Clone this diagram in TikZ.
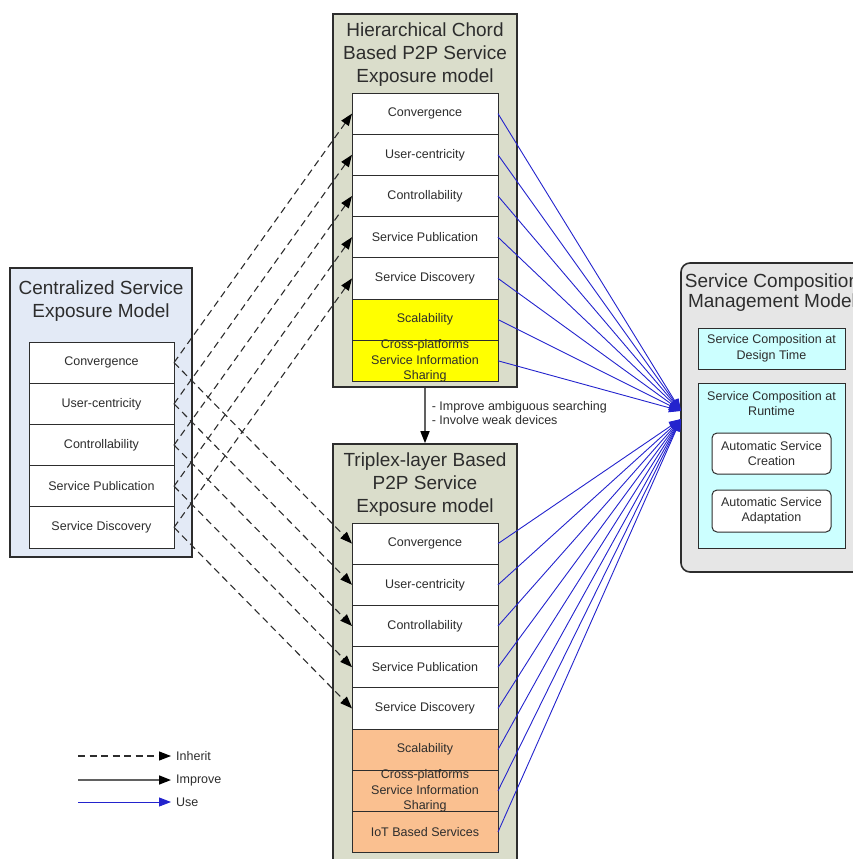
\documentclass[tikz,border=0pt]{standalone}
\usepackage{fontspec}
\setmainfont{Liberation Sans}
\usetikzlibrary{positioning, arrows.meta}
\definecolor{khaki}{RGB}{218,221,203}
\definecolor{paleblue}{RGB}{227,234,246}
\definecolor{hiyellow}{RGB}{255,255,0}
\definecolor{peach}{RGB}{250,192,144}
\definecolor{palecyan}{RGB}{204,255,255}
\definecolor{panelgray}{RGB}{230,230,230}
\definecolor{usecol}{RGB}{35,35,205}
\definecolor{ink}{RGB}{45,45,45}

\begin{document}
\begin{tikzpicture}[x=1pt, y=-1pt,
  >={Triangle[length=12pt, width=9pt]},
  every node/.style={text=ink},
  model/.style={draw=ink, line width=1.6pt, fill=khaki, inner sep=0pt},
  title/.style={align=center, font=\fontsize{19}{23}\selectfont, inner sep=0pt},
  txt/.style={align=center, font=\fontsize{12.5}{15.5}\selectfont, inner sep=0pt},
  row/.style={txt, draw=ink, line width=1pt, fill=white, minimum width=146pt, minimum height=41.2pt, outer sep=0pt},
  crossrow/.style={row, label={[txt]center:{Cross-platforms\\Service Information\\Sharing}}},
  part/.style={txt, draw=ink, line width=1pt, fill=palecyan, minimum width=147pt},
  inherit/.style={-{Triangle[length=12pt, width=9pt, color=black]}, draw=ink, line width=1.1pt, dash pattern=on 7pt off 4.5pt},
  improve/.style={-{Triangle[length=12pt, width=9pt, color=black]}, draw=ink!75, line width=1.5pt},
  use/.style={-{Triangle[length=12pt, width=9pt, color=usecol]}, draw=usecol, line width=0.9pt},
]
  \useasboundingbox (0,0) rectangle (853,859);
  \clip (0,0) rectangle (853,859);

  % outer model boxes
  \node[model, fill=paleblue, minimum width=182pt, minimum height=289pt] (csbox) at (101,412.5) {};
  \node[model, minimum width=184pt, minimum height=373pt] (hcbox) at (425,200.5) {};
  \node[model, minimum width=184pt, minimum height=436pt] (tlbox) at (425,662) {};
  \node[model, fill=panelgray, rounded corners=9pt, minimum width=182pt, minimum height=309pt] (scbox) at (772,417.5) {};

  \node[title] (cstitle) at (101,301) {Centralized Service\\Exposure Model};
  \node[title] (hctitle) at (425,55) {Hierarchical Chord\\Based P2P Service\\Exposure model};
  \node[title] (tltitle) at (425,485) {Triplex-layer Based\\P2P Service\\Exposure model};
  \node[title, font=\fontsize{19}{20}\selectfont] (sctitle) at (772,293) {Service Composition\\Management Model};

  % feature rows
  \foreach \t [count=\i] in {Convergence, User-centricity, Controllability, Service Publication, Service Discovery} {
    \node[row, minimum width=145pt] (cs\i) at (101.5,{342+41.2*(\i-0.5)}) {\t};
    \node[row] (hc\i) at (425,{93+41.2*(\i-0.5)}) {\t};
    \node[row] (tl\i) at (425,{523+41.2*(\i-0.5)}) {\t};
  }
  \node[row, fill=hiyellow] (hc6) at (425,{93+41.2*5.5}) {Scalability};
  \node[crossrow, fill=hiyellow] (hc7) at (425,{93+41.2*6.5}) {};
  \node[row, fill=peach] (tl6) at (425,{523+41.2*5.5}) {Scalability};
  \node[crossrow, fill=peach] (tl7) at (425,{523+41.2*6.5}) {};
  \node[row, fill=peach] (tl8) at (425,{523+41.2*7.5}) {IoT Based Services};

  % composition parts
  \node[part, minimum height=41pt] (design) at (771.5,348.5) {Service Composition at\\Design Time};
  \node[part, minimum height=165pt] (runtime) at (771.5,465.5) {};
  \node[txt] (rttitle) at (771.5,403.5) {Service Composition at\\Runtime};
  \node[part, fill=white, rounded corners=5pt, minimum width=119pt, minimum height=41pt] (create) at (771.5,453.5) {Automatic Service\\Creation};
  \node[part, fill=white, rounded corners=5pt, minimum width=119pt, minimum height=42pt] (adapt) at (771.5,511) {Automatic Service\\Adaptation};

  % connectors
  \coordinate (hubtop) at (681,411);
  \coordinate (hubbot) at (681,419);
  \foreach \i in {1,...,5} {
    \draw[inherit] (cs\i.east) -- (hc\i.west);
    \draw[inherit] (cs\i.east) -- (tl\i.west);
  }
  \foreach \i in {1,...,7} \draw[use] (hc\i.east) -- (hubtop);
  \foreach \i in {1,...,8} \draw[use] (tl\i.east) -- (hubbot);
  \draw[improve] (hcbox.south) -- (tlbox.north)
    node[pos=0.45, right=6pt, txt, align=left, font=\fontsize{12.5}{14}\selectfont] (why) {- Improve ambiguous searching\\- Involve weak devices};

  % legend
  \coordinate (lg1) at (78,756);
  \coordinate (lg2) at (78,780);
  \coordinate (lg3) at (78,802);
  \node[txt, anchor=west] (inh) at (176,756) {Inherit};
  \node[txt, anchor=west] (imp) at (176,780) {Improve};
  \node[txt, anchor=west] (use) at (176,802) {Use};
  \draw[inherit] (lg1) -- ([xshift=-5pt]inh.west);
  \draw[improve] (lg2) -- ([xshift=-5pt]imp.west);
  \draw[use] (lg3) -- ([xshift=-5pt]use.west);
\end{tikzpicture}
\end{document}
